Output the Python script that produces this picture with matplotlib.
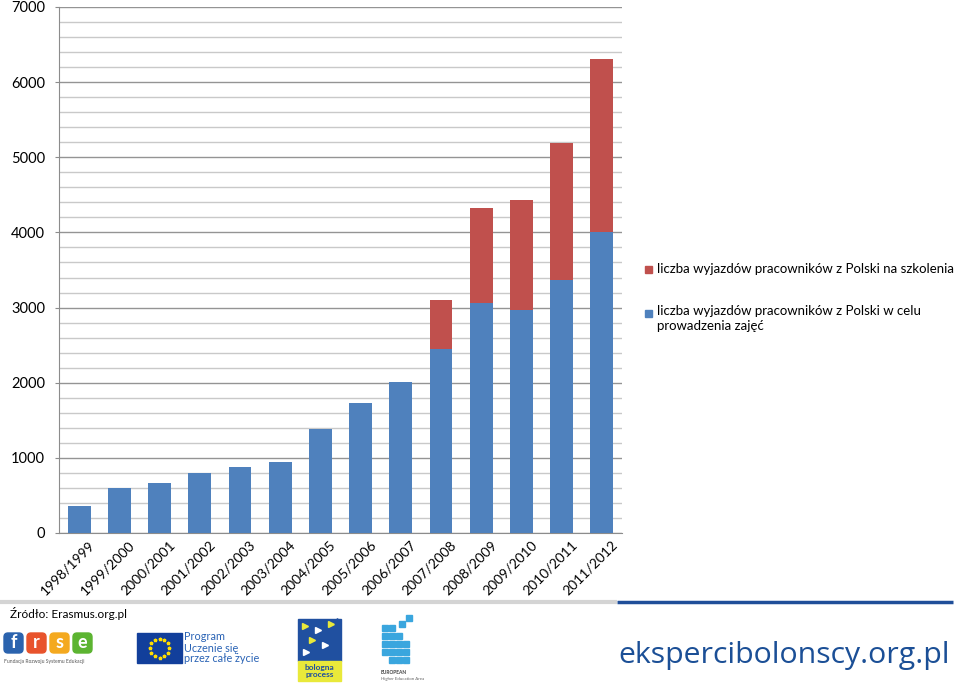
import matplotlib
matplotlib.use('Agg')
import matplotlib.pyplot as plt
from matplotlib.patches import Rectangle, FancyBboxPatch
from matplotlib.ticker import MultipleLocator
import matplotlib.transforms as mtransforms
import math

# dane
lata = ['1998/1999', '1999/2000', '2000/2001', '2001/2002', '2002/2003',
        '2003/2004', '2004/2005', '2005/2006', '2006/2007', '2007/2008',
        '2008/2009', '2009/2010', '2010/2011', '2011/2012']
prowadzenie = [355, 602, 672, 796, 880, 942, 1389, 1729, 2016, 2454,
               3060, 2963, 3365, 4005]
szkolenia = [0, 0, 0, 0, 0, 0, 0, 0, 0, 642, 1264, 1467, 1830, 2304]

lab_szkol = 'liczba wyjazdów pracowników z Polski na szkolenia'
lab_prow = 'liczba wyjazdów pracowników z Polski w celu\nprowadzenia zajęć'

BLUE = '#4F81BD'
RED = '#C0504D'
FONT = 'Lato'

plt.rcParams['font.family'] = [FONT, 'DejaVu Sans']

fig = plt.figure(figsize=(9.6, 6.88), dpi=100)
W, H = 960., 688.

ax = fig.add_axes([59 / W, 1 - 533 / H, 563 / W, 526 / H])
x = list(range(len(lata)))
ax.bar(x, prowadzenie, width=0.57, color=BLUE, zorder=3)
ax.bar(x, szkolenia, width=0.57, bottom=prowadzenie, color=RED, zorder=3)

ax.set_xlim(-0.5, len(lata) - 0.5)
ax.set_ylim(0, 7000)
ax.yaxis.set_major_locator(MultipleLocator(1000))
ax.yaxis.set_minor_locator(MultipleLocator(200))
ax.grid(axis='y', which='major', color='#949494', lw=1.0, zorder=0)
ax.grid(axis='y', which='minor', color='#c9c9c9', lw=1.0, zorder=0)
ax.set_axisbelow(True)
for s in ['top', 'right']:
    ax.spines[s].set_visible(False)
ax.spines['left'].set_color('#8c8c8c')
ax.spines['bottom'].set_color('#8c8c8c')
ax.tick_params(axis='y', which='major', length=3, color='#8c8c8c', pad=7,
               labelsize=10.5)
ax.tick_params(axis='y', which='minor', length=0)
ax.tick_params(axis='x', length=0, pad=4)

ax.set_xticks(x)
ax.set_xticklabels(lata, rotation=45, ha='right', va='top',
                   rotation_mode='anchor', fontsize=10)
off = mtransforms.ScaledTranslation(9 / 100., 0, fig.dpi_scale_trans)
for t in ax.get_xticklabels():
    t.set_transform(t.get_transform() + off)

# legenda
fig.add_artist(Rectangle((645 / W, 1 - 273 / H), 7 / W, 7 / H,
                         color=RED, transform=fig.transFigure))
fig.text(657 / W, 1 - 269 / H, lab_szkol, fontsize=9.5, va='center')
fig.add_artist(Rectangle((645 / W, 1 - 317 / H), 7 / W, 7 / H,
                         color=BLUE, transform=fig.transFigure))
fig.text(657 / W, 1 - 305 / H, lab_prow, fontsize=9.5, va='top',
         linespacing=1.25)

# stopka
deco = fig.add_axes([0, 0, 1, 1], zorder=-1)
deco.set_xlim(0, W)
deco.set_ylim(H, 0)
deco.axis('off')

deco.plot([0, 617], [602, 602], color='#d4d4d4', lw=3, solid_capstyle='butt')
deco.plot([617, 953], [602, 602], color='#1f4e99', lw=2.5, solid_capstyle='butt')
deco.text(10, 613, 'Źródło: Erasmus.org.pl', fontsize=8.5, va='center')

deco.text(618, 655, 'ekspercibolonscy.org.pl', fontsize=21.8, color='#1b4f96',
          va='center', ha='left', family='Open Sans')

# logo frse
for i, (ch, c) in enumerate(zip('frse', ['#2b63ae', '#e8532c', '#f4a91f', '#5cb431'])):
    deco.add_patch(FancyBboxPatch((4 + i * 23, 633), 19, 20,
                                  boxstyle='round,pad=0,rounding_size=4', color=c))
    deco.text(13.5 + i * 23, 642, ch, color='white', fontsize=13,
              fontweight='bold', ha='center', va='center')
deco.text(4, 661, 'Fundacja Rozwoju Systemu Edukacji', fontsize=3.6,
          color='#555555', va='center')

# logo UE
deco.add_patch(Rectangle((137, 633), 45, 30, color='#123f9b'))
for k in range(12):
    a = 2 * math.pi * k / 12
    deco.plot(159.5 + 9.5 * math.cos(a), 648 + 9.5 * math.sin(a), marker='*',
              color='#ffdd00', ms=2.5)
deco.text(184, 648, 'Program\nUczenie się\nprzez całe życie', fontsize=7.8,
          color='#2a63b5', va='center', linespacing=1.0)

# logo bologna
deco.add_patch(Rectangle((298, 619), 43, 42, color='#2050a0'))
deco.add_patch(Rectangle((298, 661), 43, 20, color='#e9e93a'))
for (px, py, c) in [(305, 626, '#e9e93a'), (318, 630, 'white'), (312, 640, '#e9e93a'),
                    (325, 645, 'white'), (306, 652, 'white'), (331, 624, '#e9e93a')]:
    deco.plot(px, py, marker='>', color=c, ms=4)
deco.plot(337, 622, marker='*', color='#2050a0', ms=6)
deco.text(319.5, 671, 'bologna\nprocess', fontsize=6, color='#2050a0',
          ha='center', va='center', fontweight='bold', linespacing=0.95)

# logo EHEA
for (px, py) in [(385, 628), (392, 628), (402, 624), (409, 618), (385, 636),
                 (392, 636), (399, 636), (385, 644), (392, 644), (399, 644),
                 (406, 644), (392, 652), (399, 652), (406, 652), (385, 652),
                 (399, 660), (406, 660), (392, 660)]:
    deco.add_patch(Rectangle((px - 3, py - 3), 6, 6, color='#3aa6de'))
deco.text(381, 673, 'EUROPEAN', fontsize=3.5, color='#444444', fontweight='bold',
          va='center')
deco.text(381, 679, 'Higher Education Area', fontsize=3.2, color='#666666',
          va='center')

fig.savefig('out.png', dpi=100)
